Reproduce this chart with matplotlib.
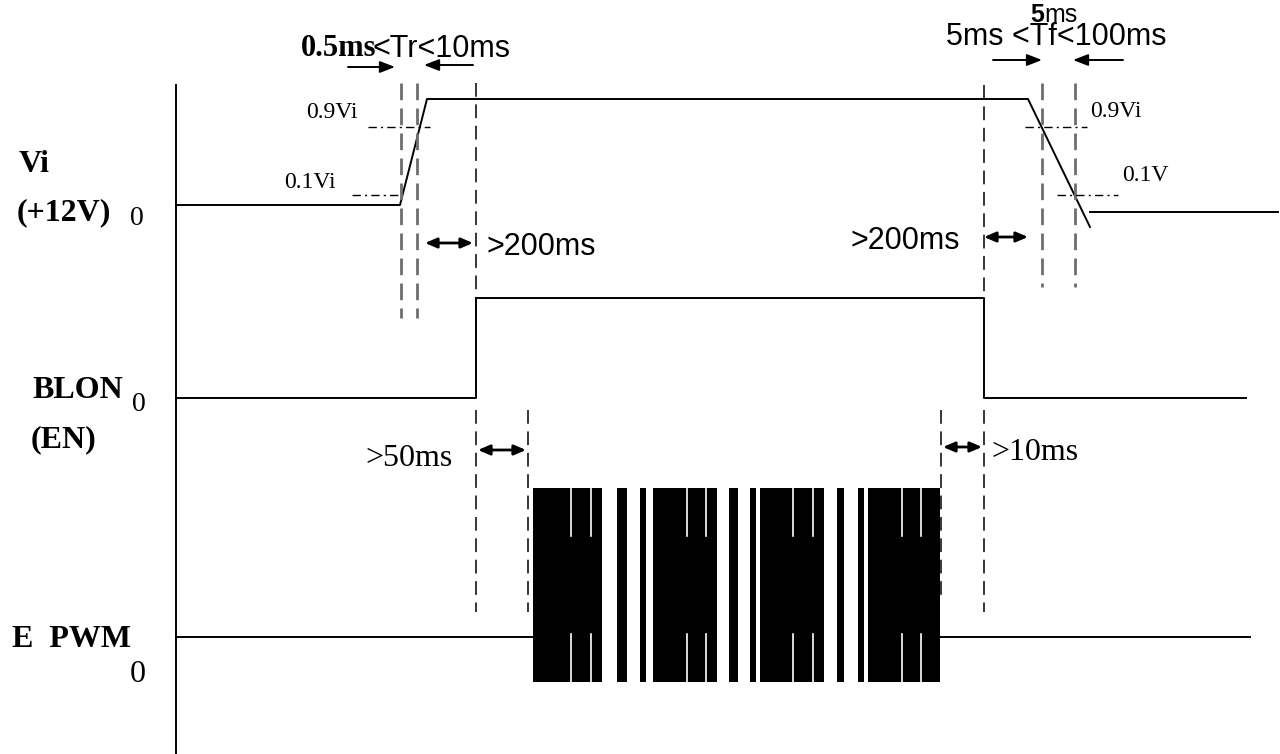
import numpy as np
import matplotlib.pyplot as plt

# --- timing diagram data (diagram units = horizontal position, level = vertical) ---

# Vi (+12V) waveform
vi_t = [176, 400, 427, 1028, 1090]
vi_lvl = [205, 205, 99, 99, 227]
vi_tail_t = [1090, 1278]
vi_tail_lvl = [212, 212]

# BLON (EN) waveform
blon_t = [176, 476, 476, 984, 984, 1246]
blon_lvl = [398, 398, 298, 298, 398, 398]

# E PWM baseline and bursts
pwm_base_lvl = 637
pwm_base_left = [176, 533]
pwm_base_right = [940, 1250]
pwm_top, pwm_bottom = 488, 682
pwm_bursts = [(533, 602), (617, 627), (640, 646), (653, 717), (729, 738),
              (750, 756), (760, 824), (837, 844), (858, 864), (868, 940)]
pwm_inner_gaps = [571, 591, 687, 706, 793, 813, 902, 921]

# dashed markers: (x, top, bottom)
rise_marks = [(401, 83, 318), (417, 83, 318)]
fall_marks = [(1042, 83, 287), (1075, 83, 287)]
edge_marks = [(476, 83, 298), (984, 85, 298),
              (476, 410, 612), (528, 410, 612), (941, 410, 600), (984, 410, 612)]

# threshold dash-dot lines: (level, x0, x1)
thresholds = [(127, 368, 430), (195, 352, 400), (127, 1025, 1087), (195, 1057, 1118)]

SERIF = "Liberation Serif"
SANS = "Liberation Sans"

fig = plt.figure(figsize=(12.8, 7.54), dpi=100)
ax = fig.add_axes([0, 0, 1, 1])
ax.set_xlim(0, 1280)
ax.set_ylim(754, 0)
ax.axis("off")

lw = 1.4
# vertical axis
ax.plot([176, 176], [85, 754], color="black", lw=lw)

# waveforms
ax.plot(vi_t, vi_lvl, color="black", lw=lw)
ax.plot(vi_tail_t, vi_tail_lvl, color="black", lw=lw)
ax.plot(blon_t, blon_lvl, color="black", lw=lw)
ax.plot(pwm_base_left, [pwm_base_lvl] * 2, color="black", lw=lw)
ax.plot(pwm_base_right, [pwm_base_lvl] * 2, color="black", lw=lw)

for a, b in pwm_bursts:
    ax.fill_between([a, b], pwm_top, pwm_bottom, color="black", lw=0)
for g in pwm_inner_gaps:
    ax.plot([g, g], [pwm_top, pwm_top + 48], color="white", lw=1.2)
    ax.plot([g, g], [pwm_bottom - 48, pwm_bottom], color="white", lw=1.2)

# dashed guide lines
for x, y0, y1 in rise_marks + fall_marks:
    ax.plot([x, x], [y0, y1], color="#6e6e6e", lw=2.0, linestyle=(0, (6, 3)))
for x, y0, y1 in edge_marks:
    ax.plot([x, x], [y0, y1], color="black", lw=1.1, linestyle=(0, (9, 5)))
for y, x0, x1 in thresholds:
    ax.plot([x0, x1], [y, y], color="black", lw=1.0, linestyle=(0, (6, 3, 1.5, 3)))

# arrows
single = dict(arrowstyle="-|>,head_length=0.9,head_width=0.35", color="black", lw=1.4,
              shrinkA=0, shrinkB=0)
double = dict(arrowstyle="<|-|>,head_length=0.7,head_width=0.3", color="black", lw=2.0,
              shrinkA=0, shrinkB=0)
for (x0, x1, y) in [(348, 395, 67), (473, 424, 65), (993, 1042, 60), (1123, 1073, 60)]:
    ax.annotate("", xy=(x1, y), xytext=(x0, y), arrowprops=single)
for (x0, x1, y) in [(425, 473, 243), (984, 1028, 237), (478, 526, 450), (943, 982, 447)]:
    ax.annotate("", xy=(x1, y), xytext=(x0, y), arrowprops=double)

# signal labels
bold = dict(family=SERIF, weight="bold", fontsize=23, va="baseline", ha="left")
ax.text(19, 172, "Vi", **bold)
ax.text(17, 220, "(+12V)", **bold)
ax.text(32, 398, "BLON", **bold)
ax.text(31, 447, "(EN)", **bold)
ax.text(12, 647, "E  PWM", **bold)
ax.text(130, 225, "0", family=SERIF, fontsize=20, va="baseline")
ax.text(132, 411, "0", family=SERIF, fontsize=20, va="baseline")
ax.text(130, 682, "0", family=SERIF, fontsize=23, va="baseline")

# threshold labels
small = dict(family=SERIF, fontsize=17, va="baseline", ha="left")
ax.text(306, 118, "0.9Vi", **small)
ax.text(284, 188, "0.1Vi", **small)
ax.text(1090, 117, "0.9Vi", **small)
ax.text(1122, 181, "0.1V", **small)

# timing annotations
ax.text(376, 56, "0.5ms", family=SERIF, weight="bold", fontsize=22, va="baseline", ha="right")
ax.text(372, 57, "<Tr<10ms", family=SANS, fontsize=22, va="baseline", ha="left")
ax.text(946, 45, "5ms <Tf<100ms", family=SANS, fontsize=22, va="baseline", ha="left")
ax.text(1044, 22, "5", family=SANS, weight="bold", fontsize=18, va="baseline", ha="right")
ax.text(1044, 22, "ms", family=SANS, fontsize=18, va="baseline", ha="left")
ax.text(487, 255, ">200ms", family=SANS, fontsize=22, va="baseline", ha="left")
ax.text(960, 249, ">200ms", family=SANS, fontsize=22, va="baseline", ha="right")
ax.text(453, 466, ">50ms", family=SERIF, fontsize=23, va="baseline", ha="right")
ax.text(991, 460, ">10ms", family=SERIF, fontsize=23, va="baseline", ha="left")

fig.savefig("out.png", dpi=100)
